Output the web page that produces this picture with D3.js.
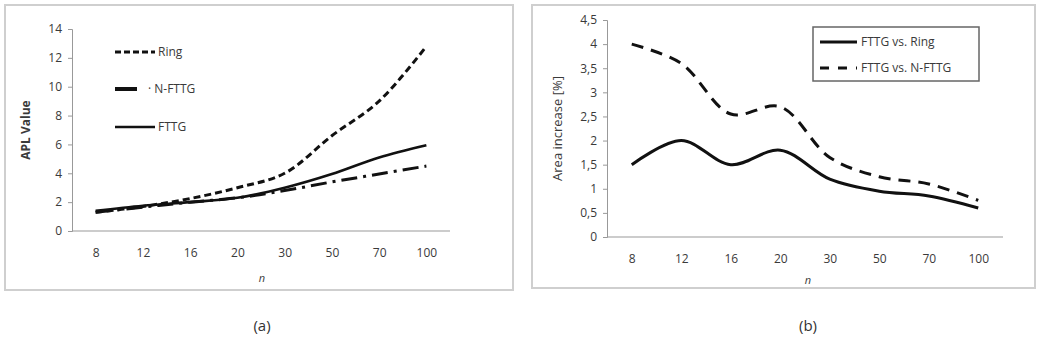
<!DOCTYPE html>
<html><head><meta charset="utf-8">
<script src="https://cdn.jsdelivr.net/npm/d3@7"></script>
<style>body{margin:0;background:#fff}svg{display:block}</style>
</head><body>
<svg id="c" width="1047" height="344"></svg>
<script>
const categories = ["8","12","16","20","30","50","70","100"];
const ringAPL = [1.3,1.7,2.25,3.0,4.0,6.6,9.0,12.8];
const nfttgAPL = [1.3,1.65,2.0,2.3,2.8,3.4,3.95,4.5];
const fttgAPL = [1.4,1.75,2.0,2.3,3.0,3.95,5.1,5.95];
const vsRing = [1.5,2.0,1.5,1.8,1.2,0.95,0.85,0.6];
const vsNFTTG = [4.0,3.6,2.55,2.7,1.65,1.25,1.1,0.76];
const ticksA = [0,2,4,6,8,10,12,14];
const ticksB = [0,0.5,1,1.5,2,2.5,3,3.5,4,4.5];

const svg = d3.select("#c");
const font = "'Open Sans', sans-serif";
const axisColor = "#999";
const txt = "#3a3a3a";

function panel(o){
  const g = svg.append("g");
  g.append("rect").attr("x",o.frame[0]).attr("y",o.frame[1]).attr("width",o.frame[2]).attr("height",o.frame[3])
    .attr("fill","#fff").attr("stroke","#cfcfcf").attr("stroke-width",2);
  const x = d3.scalePoint().domain(categories).range([o.x0,o.x1]).padding(0.5);
  const y = d3.scaleLinear().domain([0,o.ymax]).range([o.y0,o.y1]);
  const ya = g.append("g").attr("transform",`translate(${o.x0},0)`).call(d3.axisLeft(y).tickValues(o.ticks).tickSize(4).tickPadding(6).tickFormat(o.fmt));
  ya.select(".domain").attr("stroke",axisColor);
  ya.selectAll(".tick line").attr("stroke",axisColor);
  ya.selectAll("text").attr("fill",txt).style("font-family",font).style("font-size","12px");
  const xa = g.append("g").attr("transform",`translate(0,${o.y0})`).call(d3.axisBottom(x).tickSize(0).tickPadding(17));
  xa.select(".domain").attr("stroke",axisColor).attr("d",`M${o.x0},0H${o.x1}`);
  xa.selectAll("text").attr("fill",txt).style("font-family",font).style("font-size","12px");
  g.append("text").attr("x",o.nx).attr("y",o.ny).attr("text-anchor","middle").attr("fill",txt)
    .style("font-family",font).style("font-size","11px").style("font-style","italic").text("n");
  g.append("text").attr("transform",`translate(${o.tx},${(o.y0+o.y1)/2}) rotate(-90)`).attr("text-anchor","middle")
    .attr("fill",txt).style("font-family",font).style("font-size",o.tsize).style("font-weight",o.tweight).text(o.title);
  const line = d3.line().x((d,i)=>x(categories[i])).y(d=>y(d)).curve(d3.curveCatmullRom.alpha(0.5));
  o.series.forEach(s=>{
    g.append("path").attr("d",line(s.values)).attr("fill","none").attr("stroke","#111")
      .attr("stroke-width",s.w).attr("stroke-dasharray",s.dash).attr("stroke-linecap","butt");
  });
  g.append("text").attr("x",o.cx).attr("y",331).attr("text-anchor","middle").attr("fill","#333")
    .style("font-family",font).style("font-size","15px").text(o.caption);
  return g;
}

const gA = panel({frame:[5,5,508,285], x0:72, x1:450, y0:231, y1:29, ymax:14, ticks:ticksA, fmt:d3.format("d"),
  nx:262, ny:282, tx:30, title:"APL Value", tsize:"12px", tweight:"bold", cx:262, caption:"(a)",
  series:[{values:ringAPL,dash:"7,4",w:3},{values:nfttgAPL,dash:"16,6,3,6",w:3},{values:fttgAPL,dash:null,w:2.6}]});
const legA = [{t:"Ring",dash:"6,3",y:52,w:3},{t:"· N-FTTG",dash:null,y:89,w:4,short:true},{t:"FTTG",dash:null,y:127,w:2.6}];
legA.forEach(l=>{
  gA.append("line").attr("x1",115).attr("x2",l.short?137:155).attr("y1",l.y).attr("y2",l.y)
    .attr("stroke","#111").attr("stroke-width",l.w).attr("stroke-dasharray",l.dash);
  gA.append("text").attr("x",l.short?148:158).attr("y",l.y+4).attr("fill",txt)
    .style("font-family",font).style("font-size","12px").text(l.t);
});

const gB = panel({frame:[532,5,503,283], x0:607, x1:1003, y0:237, y1:20, ymax:4.5, ticks:ticksB, fmt:d=>String(d).replace(".",","),
  nx:808, ny:284, tx:562, title:"Area increase [%]", tsize:"13px", tweight:"normal", cx:808, caption:"(b)",
  series:[{values:vsRing,dash:null,w:3},{values:vsNFTTG,dash:"12,8",w:3}]});
gB.append("rect").attr("x",813).attr("y",27).attr("width",166).attr("height",54).attr("fill","#fff")
  .attr("stroke","#666").attr("stroke-width",1.5);
[{t:"FTTG vs. Ring",dash:null,y:42},{t:"FTTG vs. N-FTTG",dash:"9,9",y:68}].forEach(l=>{
  gB.append("line").attr("x1",820).attr("x2",857).attr("y1",l.y).attr("y2",l.y)
    .attr("stroke","#111").attr("stroke-width",3).attr("stroke-dasharray",l.dash);
  gB.append("text").attr("x",861).attr("y",l.y+4).attr("fill",txt)
    .style("font-family",font).style("font-size","12px").text(l.t);
});
</script>
</body></html>
